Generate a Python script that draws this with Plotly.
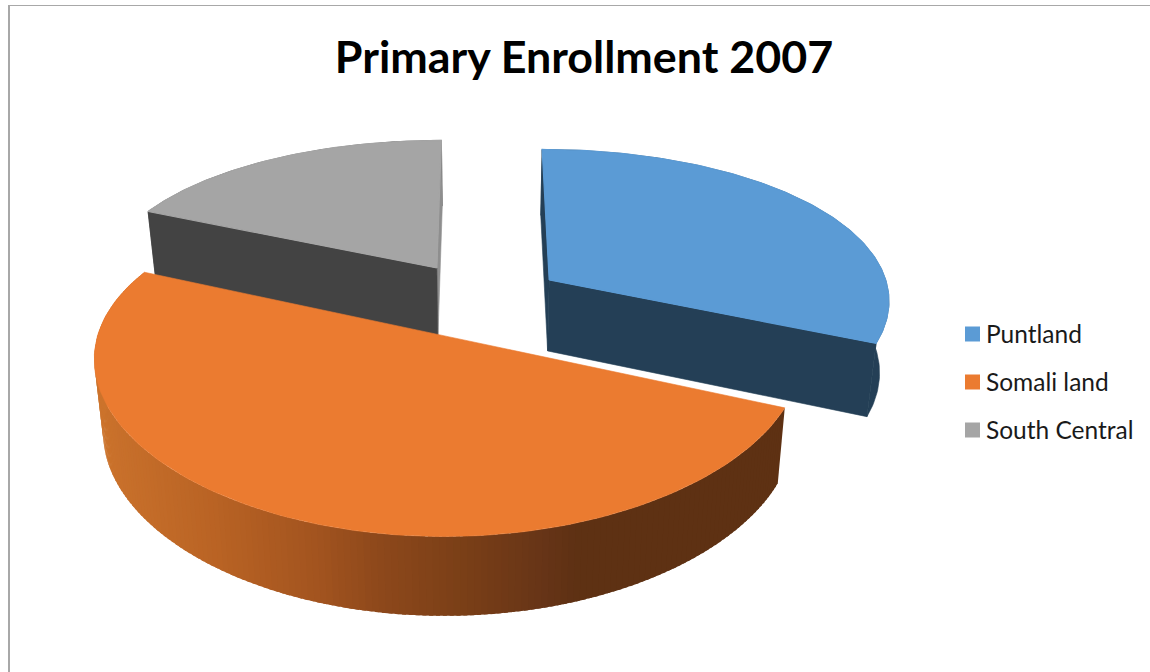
import math
import plotly.graph_objects as go

# Share of primary enrollment by region, in percent
categories = ["Puntland", "Somali land", "South Central"]
shares = [31.5, 50.2, 18.3]
title_text = "Primary Enrollment 2007"

top_colors = ["#5b9bd5", "#eb7b30", "#a5a5a5"]
side_colors = ["#243f56", "#5e3113", "#434343"]
sliver_colors = ["#243f56", "#5e3113", "#8e8e8e"]

# Displacement of each exploded slice on the pie's plane (radius units)
explode = [(0.328, -0.359), (0.032, -0.002), (-0.007, -0.44)]

# Camera model for the tilted disc
CX, CY = 437, 337
VANISH_X = 481
RX, RY, DEPTH = 351, 168, 73
KX, KY, KZ = 0.12, 0.16, 0.08
TAPER = 0.023

# Horizontal lighting ramp on the curved orange wall
wall_ramp = [(91, (205, 116, 44)), (113, (200, 112, 43)), (213, (185, 99, 36)), (313, (163, 84, 31)),
             (380, (141, 72, 27)), (463, (122, 63, 23)), (547, (102, 52, 23)), (577, (94, 49, 19)),
             (800, (94, 49, 19))]


def project(theta, radius, z, offset):
    """Map a point of the cylinder (clockwise angle from north) to pixel space."""
    px = radius * math.sin(theta) + offset[0]
    py = -radius * math.cos(theta) + offset[1]
    x = VANISH_X + (CX - VANISH_X + RX * px) / (1 - KX * py) * (1 - TAPER * z)
    y = CY + RY * py / (1 - KY * py) + z * DEPTH / (1 - KZ * py)
    return x, y


def arc(start, stop, z, offset, steps=120):
    pts = [project(start + (stop - start) * i / steps, 1, z, offset) for i in range(steps + 1)]
    return pts


def ramp_color(x):
    for (x0, c0), (x1, c1) in zip(wall_ramp, wall_ramp[1:]):
        if x <= x1:
            t = max(0.0, (x - x0) / (x1 - x0))
            return "rgb(%d,%d,%d)" % tuple(round(a + (b - a) * t) for a, b in zip(c0, c1))
    return "rgb(94,49,19)"


fig = go.Figure()


def polygon(points, color, edge=0):
    xs = [p[0] for p in points] + [points[0][0]]
    ys = [p[1] for p in points] + [points[0][1]]
    fig.add_trace(go.Scatter(
        x=xs, y=ys, mode="lines", fill="toself", fillcolor=color,
        line=dict(color=color, width=edge),
        hoverinfo="skip", showlegend=False,
    ))


# Slice boundaries from the shares
total = sum(shares)
bounds = [0.0]
for s in shares:
    bounds.append(bounds[-1] + 2 * math.pi * s / total)


def radial_face(theta, offset, color):
    apex_top = project(0, 0, 0, offset)
    apex_bot = project(0, 0, 1, offset)
    rim_top = project(theta, 1, 0, offset)
    rim_bot = project(theta, 1, 1, offset)
    polygon([apex_top, rim_top, rim_bot, apex_bot], color, edge=0.6)


def top_face(start, stop, offset, color, edge=0):
    polygon([project(0, 0, 0, offset)] + arc(start, stop, 0, offset), color, edge=edge)


def outer_wall(start, stop, offset, color):
    polygon(arc(start, stop, 0, offset) + arc(stop, start, 1, offset), color, edge=0.6)


# Back slices first, the large front slice last
for i in (2, 0):
    a, b = bounds[i], bounds[i + 1]
    off = explode[i]
    outer_wall(a, b, off, side_colors[i])
    if i == 0:
        radial_face(a, off, sliver_colors[i])
        radial_face(b, off, side_colors[i])
    else:
        radial_face(b, off, sliver_colors[i])
        radial_face(a, off, side_colors[i])
    top_face(a, b, off, top_colors[i], edge=1.2)

# Curved wall of the front slice, shaded strip by strip from right to left;
# each strip runs under the next one so no seams show between them
a, b = bounds[1], bounds[2]
off = explode[1]
strips = 180
step = (b - a) / strips
for j in range(strips):
    t0 = a + step * j
    t1 = min(b, t0 + step * 1.6)
    x_mid = project(t0 + step / 2, 1, 0, off)[0]
    polygon([project(t0, 1, 0, off), project(t0 + (t1 - t0) / 2, 1, 0, off), project(t1, 1, 0, off),
             project(t1, 1, 1, off), project(t0 + (t1 - t0) / 2, 1, 1, off), project(t0, 1, 1, off)],
            ramp_color(x_mid))
top_face(a, b, off, top_colors[1], edge=0.6)

# Key on the right: coloured square followed by the region name
key_x = 972.5
key_y = [334, 382, 430]
for name, color, y in zip(categories, top_colors, key_y):
    fig.add_trace(go.Scatter(
        x=[key_x], y=[y], mode="markers", hoverinfo="skip", showlegend=False,
        marker=dict(symbol="square", size=15, color=color, line=dict(width=0)),
    ))
    fig.add_annotation(x=984, y=y - 0.5, text=name, showarrow=False, xanchor="left", yanchor="middle",
                       font=dict(family="Lato", size=24.5, color="#1a1a1a"))

# Thin frame along the top and left edges
frame = dict(type="line", xref="x", yref="y", line=dict(color="#a8a8a8"))
fig.add_shape(x0=8, x1=1150, y0=5.5, y1=5.5, line_width=1, **{k: v for k, v in frame.items()})
fig.add_shape(x0=9, x1=9, y0=5, y1=672, line_width=2, **{k: v for k, v in frame.items()})

fig.update_layout(
    width=1150, height=672, margin=dict(l=0, r=0, t=0, b=0),
    paper_bgcolor="white", plot_bgcolor="white", showlegend=False,
    title=dict(text=title_text, x=584 / 1150, y=1 - 57 / 672, xanchor="center", yanchor="middle",
               font=dict(family="Lato", size=44.8, color="black", weight="bold")),
    xaxis=dict(range=[0, 1150], visible=False, fixedrange=True),
    yaxis=dict(range=[672, 0], visible=False, fixedrange=True),
)

fig.write_html("out.html")
